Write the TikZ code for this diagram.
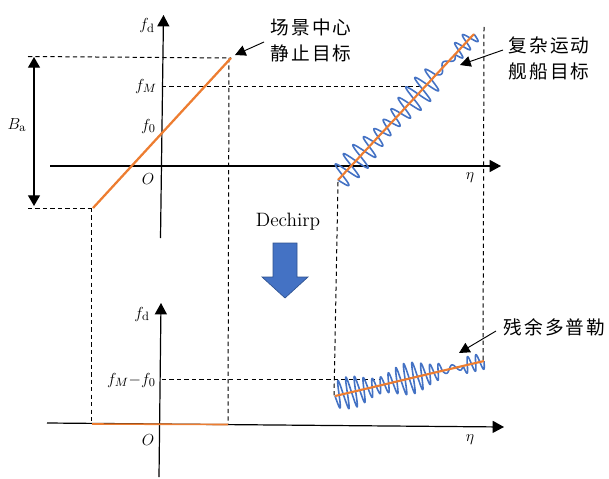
\documentclass[tikz,border=0pt]{standalone}
\usepackage{fontspec}
\newfontfamily\cjk[LetterSpace=12]{Noto Sans CJK SC}
\usetikzlibrary{arrows.meta}
\definecolor{myorange}{RGB}{237,125,49}
\definecolor{myblue}{RGB}{68,114,196}
\definecolor{darkblue}{RGB}{47,82,143}
\begin{document}
\begin{tikzpicture}[x=0.75pt,y=-0.75pt,
  axis/.style={line width=0.9pt,-{Triangle[length=8.5pt,width=9pt]}},
  guide/.style={line width=0.75pt,dash pattern=on 3.2pt off 2.4pt},
  ann/.style={line width=0.7pt,-{Triangle[length=8pt,width=8pt]}},
  lab/.style={inner sep=0pt,font=\fontsize{13}{15}\selectfont},
  cjklab/.style={inner sep=0pt,anchor=west,align=left,font=\cjk\fontsize{14}{19.5}\selectfont},
  orangeline/.style={myorange,line width=1.7pt},
  wave/.style={myblue,line width=1.2pt,line join=round}]
\useasboundingbox (0,0) rectangle (609,478);

% ---------- top panel ----------
\coordinate (hx0) at (50,166);
\coordinate (hx1) at (501,166);
\coordinate (vy0) at (160.5,238);
\coordinate (vy1) at (163.5,15);
\coordinate (oa) at (93,208);
\coordinate (ob) at (231,58);
\coordinate (dTl) at (28,56.5);
\coordinate (dBl) at (28,208);
\coordinate (fmA) at (162,86.5);
\coordinate (fmB) at (421,86.5);
\coordinate (vL0) at (91.5,208);
\coordinate (vL1) at (91.5,424);
\coordinate (vM0) at (229,58);
\coordinate (vM1) at (228,424);
\coordinate (vR0) at (484,27);
\coordinate (vR1) at (483,363);
\coordinate (vS0) at (338,182);
\coordinate (vS1) at (334,397);
\coordinate (ba0) at (34,57);
\coordinate (ba1) at (34,206);
\coordinate (wa) at (338,180);
\coordinate (wb) at (474,34);

% dashed guides
\draw[guide] (dTl) -- (ob);
\draw[guide] (dBl) -- (oa);
\draw[guide] (fmA) -- (fmB);
\draw[guide] (vL0) -- (vL1);
\draw[guide] (vM0) -- (vM1);
\draw[guide] (vR0) -- (vR1);
\draw[guide] (vS0) -- (vS1);

% axes
\draw[axis] (hx0) -- (hx1);
\draw[axis] (vy0) -- (vy1);

% B_a arrow
\draw[line width=0.9pt,{Triangle[length=8pt,width=9pt]}-{Triangle[length=8pt,width=9pt]}] (ba0) -- (ba1);

% static target line
\draw[orangeline] (oa) -- (ob);

% moving ship wave
\draw[wave] plot[domain=0:0.72,samples=320]
  ({338+136*\x+0.732*(11+3*sin(750*\x))*sin(5500*\x)},{180-146*\x+0.682*(11+3*sin(750*\x))*sin(5500*\x)})
  -- plot[domain=0.72:0.86,samples=60]
  ({338+136*\x+0.732*3.5*sin(3857.14*(\x-0.72))},{180-146*\x+0.682*3.5*sin(3857.14*(\x-0.72))})
  -- plot[domain=0.86:1,samples=80]
  ({338+136*\x+0.732*8*sin(6428.57*(\x-0.86))},{180-146*\x+0.682*8*sin(6428.57*(\x-0.86))});
\draw[myorange,line width=1.6pt] (wa) -- (wb);

% labels
\node[lab] (fd1) at (147,26) {$f_{\mathrm{d}}$};
\node[lab,anchor=east] (fM) at (157,86) {$f_M$};
\node[lab,anchor=east] (f0) at (156,126) {$f_0$};
\node[lab] (O1) at (148,179) {$O$};
\node[lab] (Ba) at (17,125) {$B_{\mathrm{a}}$};
\node[lab] (eta1) at (470,178) {$\eta$};

\node[cjklab] (t1) at (270,40) {场景中心\\静止目标};
\node[cjklab] (t2) at (508,58) {复杂运动\\舰船目标};
\coordinate (a1s) at (264,42);
\coordinate (a1e) at (235,55);
\coordinate (a2s) at (503,50);
\coordinate (a2e) at (460,65);
\draw[ann] (a1s) -- (a1e);
\draw[ann] (a2s) -- (a2e);

% Dechirp
\node[inner sep=0pt,font=\fontsize{14.5}{17}\selectfont] (dc) at (288,222) {Dechirp};
\fill[myblue,draw=darkblue,line width=0.5pt] (273,243) -- (297,243) -- (297,277) -- (308,277) -- (285,298) -- (262,277) -- (273,277) -- cycle;

% ---------- bottom panel ----------
\coordinate (bhx0) at (47,423);
\coordinate (bhx1) at (504,427);
\coordinate (bvy0) at (159,477);
\coordinate (bvy1) at (161,303);
\coordinate (ffA) at (162,379.5);
\coordinate (ffB) at (381,379.5);
\coordinate (boa) at (92,424);
\coordinate (bob) at (228,424.5);
\coordinate (bwa) at (335,396);
\coordinate (bwb) at (484,361);

\draw[guide] (ffA) -- (ffB);
\draw[axis] (bhx0) -- (bhx1);
\draw[axis] (bvy0) -- (bvy1);
\draw[myorange,line width=1.2pt] (boa) -- (bob);

\draw[wave] plot[domain=0:0.72,samples=340]
  ({335+149*\x+0.229*(12+4*sin(900*\x))*sin(6500*\x)},{396-35*\x+0.974*(12+4*sin(900*\x))*sin(6500*\x)})
  -- plot[domain=0.72:0.86,samples=60]
  ({335+149*\x+0.229*3.5*sin(3857.14*(\x-0.72))},{396-35*\x+0.974*3.5*sin(3857.14*(\x-0.72))})
  -- plot[domain=0.86:1,samples=80]
  ({335+149*\x+0.229*8*sin(6428.57*(\x-0.86))},{396-35*\x+0.974*8*sin(6428.57*(\x-0.86))});
\draw[myorange,line width=1.6pt] (bwa) -- (bwb);

\node[lab] (fd2) at (142,314) {$f_{\mathrm{d}}$};
\node[lab,anchor=east] (fMf0) at (156,380) {$f_M{-}f_0$};
\node[lab] (O2) at (148,440) {$O$};
\node[lab] (eta2) at (470,440) {$\eta$};

\node[cjklab] (t3) at (503,327) {残余多普勒};
\coordinate (a3s) at (496,331);
\coordinate (a3e) at (459,353);
\draw[ann] (a3s) -- (a3e);
\end{tikzpicture}
\end{document}
